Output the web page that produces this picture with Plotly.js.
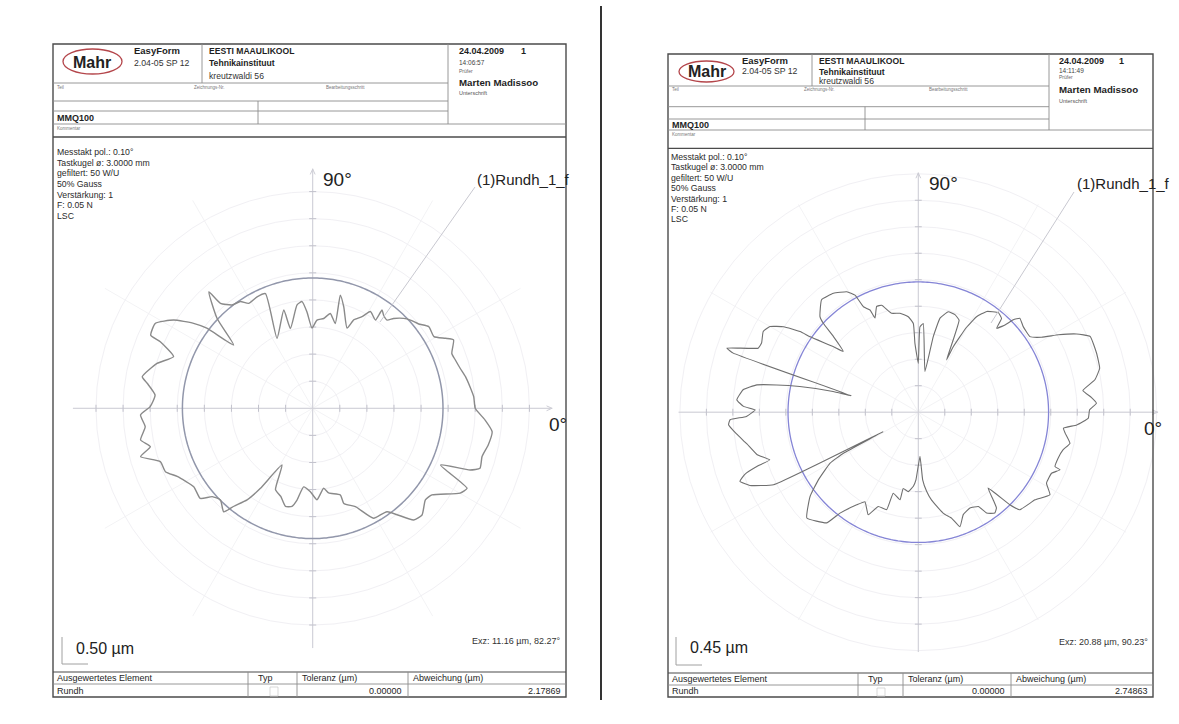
<!DOCTYPE html>
<html>
<head>
<meta charset="utf-8">
<script src="https://cdn.plot.ly/plotly-3.0.1.min.js"></script>
<style>
  html, body { margin: 0; padding: 0; background: #ffffff; }
  #chart { width: 1179px; height: 724px; }
</style>
</head>
<body>
<div id="chart"></div>
<script>
// ---------------------------------------------------------------
// Roundness profiles (polar, radius in µm on the plot scale)
// ---------------------------------------------------------------
const leftTheta = [0.0, 4.1, 7.8, 11.7, 15.2, 18.7, 21.5, 25.9, 27.8, 30.6, 35.1, 38.5, 42.1, 44.7, 48.0, 49.9,
  52.7, 54.8, 54.6, 59.2, 61.7, 65.1, 66.8, 73.0, 76.3, 75.1, 79.5, 83.0, 87.2, 90.5, 93.4, 95.7, 98.6,
  105.6, 106.4, 117.0, 112.4, 116.5, 121.4, 124.1, 128.0, 131.3, 131.7, 136.8, 141.3, 142.9, 144.5, 147.6,
  151.6, 155.7, 156.4, 159.6, 163.9, 169.5, 171.4, 175.2, 179.4, 182.2, 186.3, 190.4, 193.3, 195.7, 199.3,
  203.3, 206.7, 213.4, 218.7, 221.3, 224.8, 229.3, 231.2, 234.4, 236.8, 241.6, 245.4, 250.1, 254.5, 258.1,
  260.3, 263.4, 268.4, 272.7, 277.8, 280.7, 287.7, 288.1, 293.5, 299.0, 305.7, 312.1, 315.7, 320.9, 324.0,
  330.1, 332.6, 336.1, 338.6, 340.3, 344.1, 348.2, 352.6, 356.1, 360.0];
const leftR = [3.00, 2.98, 2.93, 2.88, 2.82, 2.78, 2.76, 2.89, 2.77, 2.60, 2.62, 2.50, 2.43, 2.36, 2.23, 2.13,
  2.16, 2.22, 2.00, 2.08, 1.92, 1.80, 1.61, 1.96, 2.15, 1.62, 1.78, 1.67, 1.63, 1.48, 1.78, 1.98, 1.93,
  1.53, 1.89, 1.45, 2.29, 2.30, 2.27, 2.38, 2.42, 2.58, 2.88, 2.42, 1.87, 2.45, 2.70, 3.04,
  3.30, 3.28, 3.07, 2.74, 2.99, 3.20, 3.09, 2.92, 3.00, 3.18, 3.11, 3.23, 3.08, 3.30, 2.98,
  2.96, 2.80, 2.63, 2.66, 2.47, 2.40, 2.52, 2.32, 2.08, 1.77, 1.19, 1.65, 1.73, 1.88, 1.85,
  1.72, 1.46, 1.54, 1.69, 1.49, 1.59, 1.68, 1.85, 1.98, 2.32, 2.35, 2.78, 2.82, 2.68, 2.72,
  3.14, 3.21, 2.58, 3.12, 3.28, 3.25, 3.31, 3.34, 3.19, 3.00];

const rightTheta = [0.8, 2.9, 4.9, 7.5, 10.4, 13.6, 18.3, 23.8, 26.3, 28.9, 31.3, 34.1, 39.2, 42.8, 44.2, 45.2,
  47.0, 48.4, 51.2, 55.8, 58.6, 60.4, 61.9, 61.6, 66.1, 69.4, 73.4, 77.0, 78.8, 80.7, 86.8, 88.9, 90.0,
  92.8, 93.2, 96.0, 100.5, 105.1, 108.9, 111.5, 114.7, 115.3, 117.5, 118.4, 120.7, 125.5, 130.7, 135.8,
  136.9, 138.3, 141.0, 142.3, 145.1, 145.7, 147.6, 150.0, 152.5, 156.2, 158.2, 161.5, 162.3, 166.2, 166.3,
  167.8, 169.1, 170.4, 172.7, 176.1, 178.1, 179.2, 181.4, 182.3, 183.8, 186.8, 190.5, 194.8, 197.8, 198.5,
  199.7, 201.2, 203.5, 206.6, 208.9, 208.7, 210.0, 214.1, 217.9, 223.5, 230.4, 232.2, 236.4, 239.2, 244.0,
  247.0, 252.0, 252.8, 258.2, 258.8, 262.8, 266.2, 268.0, 272.2, 273.7, 276.0, 278.6, 283.9, 287.5, 290.0,
  293.7, 298.3, 302.5, 304.1, 307.2, 309.2, 310.5, 312.6, 314.7, 316.1, 323.1, 327.9, 331.0, 335.4, 337.9,
  338.3, 341.8, 345.4, 348.4, 351.9, 353.7, 355.4, 358.0, 360.8];
const rightR = [2.91, 3.03, 2.95, 2.82, 3.05, 3.17, 3.19, 3.19, 3.00, 2.72, 2.45, 2.29, 2.30, 2.35, 2.25, 2.09,
  1.95, 2.13, 2.17, 2.07, 1.90, 1.66, 1.26, 1.01, 1.71, 1.77, 1.78, 1.64, 1.31, 0.70, 1.51, 1.45, 0.83,
  1.17, 1.51, 1.63, 1.71, 1.74, 1.92, 1.93, 1.76, 1.92, 2.02, 2.26, 2.38, 2.48, 2.52, 2.33,
  2.21, 1.93, 1.64, 1.82, 2.24, 2.43, 2.71, 2.91, 2.97, 2.91, 2.93, 3.43, 3.30, 1.17, 1.49,
  2.06, 2.45, 2.78, 3.00, 3.09, 2.97, 2.77, 2.92, 3.20, 3.23, 3.11, 2.96, 2.83, 2.65, 2.87,
  3.13, 3.25, 3.12, 2.75, 0.68, 1.45, 1.73, 2.05, 2.33, 2.61, 2.44, 2.17, 1.89, 1.77, 1.94,
  1.74, 1.74, 1.44, 1.52, 1.32, 1.36, 1.26, 1.15, 0.75, 1.15, 1.35, 1.51, 1.77, 1.89, 2.07,
  1.90, 1.85, 1.90, 2.07, 2.15, 2.10, 1.96, 1.75, 2.21, 2.39, 2.48, 2.64, 2.49, 2.49, 2.60,
  2.50, 2.50, 2.54, 2.63, 2.52, 2.48, 2.70, 2.89, 2.91];

// LSC reference circle radius and µm per grid ring
const leftRef = 2.405, rightRef = 2.213;
const leftStep = 0.50, rightStep = 0.45;

// Report texts
const infoLines = ["Messtakt pol.: 0.10°", "Tastkugel ø: 3.0000 mm", "gefiltert: 50 W/U", "50% Gauss",
  "Verstärkung: 1", "F: 0.05 N", "LSC"];
const reports = [
  { time: "14:06:57", scale: "0.50 µm", exz: "Exz: 11.16 µm, 82.27°", tol: "0.00000", dev: "2.17869" },
  { time: "14:11:49", scale: "0.45 µm", exz: "Exz: 20.88 µm, 90.23°", tol: "0.00000", dev: "2.74863" }
];

// ---------------------------------------------------------------
const W = 1179, H = 724;
const FONT = "Liberation Sans, Arial, Helvetica, sans-serif";
const X = px => px / W;
const Y = py => 1 - py / H;
const RAD = 240;

function dom(cx, cy) {
  return { x: [X(cx - RAD), X(cx + RAD)], y: [Y(cy + RAD), Y(cy - RAD)] };
}

function polarLayout(cx, cy, rmax, step) {
  return {
    domain: dom(cx, cy),
    bgcolor: "rgba(0,0,0,0)",
    radialaxis: { range: [0, rmax], tick0: 0, dtick: step, showticklabels: false, ticks: "",
      showline: false, gridcolor: "#f1f0f4", gridwidth: 1, angle: 0, layer: "below traces" },
    angularaxis: { dtick: 30, showticklabels: false, ticks: "", showline: false,
      gridcolor: "#f3f3f5", gridwidth: 1, rotation: 0, direction: "counterclockwise", layer: "below traces" }
  };
}

// Cross axes, ring tick marks and arrow heads
function axisTraces(sub, rmax, step) {
  const col = "#cdcdd5";
  const base = { type: "scatterpolar", subplot: sub, mode: "lines", hoverinfo: "skip", showlegend: false };
  const traces = [];
  traces.push(Object.assign({}, base, {
    r: [rmax, 0, rmax, null, rmax, 0, rmax],
    theta: [0, 0, 180, null, 90, 90, 270],
    line: { color: col, width: 1 }
  }));
  const h = step * 0.13;
  const tr = [], tt = [];
  for (let k = 1; k <= 8; k++) {
    const r0 = k * step;
    const rr = Math.hypot(r0, h);
    const d = Math.atan(h / r0) * 180 / Math.PI;
    [0, 90, 180, 270].forEach(a => { tr.push(rr, rr, null); tt.push(a - d, a + d, null); });
  }
  traces.push(Object.assign({}, base, { r: tr, theta: tt, line: { color: "#c2c2cc", width: 1 } }));
  const tip = rmax * 0.997, len = step * 0.2, hw = step * 0.09;
  const ar = [], at = [];
  [0, 90].forEach(a => {
    const rb = Math.hypot(tip - len, hw);
    const d = Math.atan(hw / (tip - len)) * 180 / Math.PI;
    ar.push(rb, tip, rb, null); at.push(a - d, a, a + d, null);
  });
  traces.push(Object.assign({}, base, { r: ar, theta: at, line: { color: col, width: 1 } }));
  return traces;
}

function circleTrace(sub, r, color, width) {
  const th = [], rr = [];
  for (let a = 0; a <= 360; a += 1) { th.push(a); rr.push(r); }
  return { type: "scatterpolar", subplot: sub, mode: "lines", r: rr, theta: th,
    line: { color: color, width: width }, hoverinfo: "skip", showlegend: false };
}

function profileTrace(sub, r, th, color, width, smooth) {
  return { type: "scatterpolar", subplot: sub, mode: "lines", r: r, theta: th,
    line: { color: color, width: width, shape: "spline", smoothing: smooth },
    hoverinfo: "skip", showlegend: false };
}

const cxL = 312.7, cyL = 408.3, cxR = 918.3, cyR = 412.2;
const rmaxL = 8.86 * leftStep, rmaxR = 9.06 * rightStep;

const data = []
  .concat(axisTraces("polar", rmaxL, leftStep))
  .concat([circleTrace("polar", leftRef, "#9297ab", 1.5),
           profileTrace("polar", leftR, leftTheta, "#8a8a8a", 1.4, 0.5)])
  .concat(axisTraces("polar2", rmaxR, rightStep))
  .concat([circleTrace("polar2", rightRef, "#8585d6", 1.3),
           profileTrace("polar2", rightR, rightTheta, "#6f6f6f", 1.1, 0.35)]);

// ---------------------------------------------------------------
// Page decoration: frames, header cells, tables
// ---------------------------------------------------------------
const shapes = [];
function line(x0, y0, x1, y1, color, width) {
  shapes.push({ type: "line", xref: "paper", yref: "paper", x0: X(x0), y0: Y(y0), x1: X(x1), y1: Y(y1),
    line: { color: color || "#8c8c8c", width: width || 0.9 } });
}
function rect(x0, y0, x1, y1, color, width) {
  shapes.push({ type: "rect", xref: "paper", yref: "paper", x0: X(x0), y0: Y(y1), x1: X(x1), y1: Y(y0),
    line: { color: color, width: width }, fillcolor: "rgba(0,0,0,0)" });
}
function oval(x0, y0, x1, y1) {
  shapes.push({ type: "circle", xref: "paper", yref: "paper", x0: X(x0), y0: Y(y1), x1: X(x1), y1: Y(y0),
    line: { color: "#b4464b", width: 1.3 } });
}

const annotations = [];
function T(text, x, y, size, opts) {
  opts = opts || {};
  annotations.push({ text: text, x: X(x), y: Y(y), xref: "paper", yref: "paper",
    xanchor: opts.anchor || "left", yanchor: "middle", showarrow: false, borderpad: 0,
    font: { family: FONT, size: size, color: opts.color || "#1e1e1e" } });
}

// page geometry
const pages = [
  { x0: 53, x1: 566, y0: 44, y1: 697, cx: cxL, cy: cyL,
    oval: [63, 49, 122, 74], col1: 133, div1: 202, col2: 208, divR: 448, col3: 458, one: 520,
    rows: [51, 63.3, 75.7], rRows: [51, 62.7, 71, 82.7, 93.3],
    lTop: 83, l1: 101, l2: 111, l3: 124, l4: 137, midDiv: 258,
    labY: 87, zeichX: 193, bearbX: 325, mmqY: 118, komY: 129,
    info0: 152.3, infoDy: 10.6, infoX: 56,
    bar: [62, 637, 664, 88], scaleX: 75, scaleY: 648, exzY: 641,
    t0: 672, t1: 684, cols: [248, 297, 408], box: 270,
    leader: [380, 322, 475, 187], labX: 476, zeroDx: 235.5 },
  { x0: 668, x1: 1153, y0: 54, y1: 697, cx: cxR, cy: cyR,
    oval: [679, 61, 734, 82], col1: 741, div1: 812, col2: 818, divR: 1049, col3: 1058, one: 1118,
    rows: [60.5, 71.5, 81.5], rRows: [60.5, 70, 77, 89.5, 100.5],
    lTop: 86, l1: 106.7, l2: 119, l3: 130, l4: 148.3, midDiv: 865,
    labY: 90, zeichX: 803, bearbX: 928, mmqY: 125, komY: 134.3,
    info0: 157, infoDy: 10.4, infoX: 670,
    bar: [676, 637, 665, 702], scaleX: 689, scaleY: 647, exzY: 642,
    t0: 673, t1: 685, cols: [858, 903, 1011], box: 877,
    leader: [991, 323, 1074, 192], labX: 1076, zeroDx: 225 }
];

pages.forEach((p, i) => {
  const rep = reports[i];
  const frame = "#4b4b4b";
  rect(p.x0, p.y0, p.x1, p.y1, frame, 1.4);
  // header grid
  line(p.div1, p.y0, p.div1, p.lTop);
  line(p.divR, p.y0, p.divR, p.l3);
  line(p.x0, p.lTop, p.divR, p.lTop);
  line(p.x0, p.l1, p.divR, p.l1);
  line(p.x0, p.l2, p.divR, p.l2);
  line(p.x0, p.l3, p.x1, p.l3);
  line(p.x0, p.l4, p.x1, p.l4, frame, 1.3);
  line(p.midDiv, p.l1, p.midDiv, p.l3);
  oval.apply(null, p.oval);

  T("<b>Mahr</b>", (p.oval[0] + p.oval[2]) / 2, (p.oval[1] + p.oval[3]) / 2 + 0.5, 16, { anchor: "center", color: "#222" });
  T("<b>EasyForm</b>", p.col1, p.rows[0], 9.5);
  T("2.04-05 SP 12", p.col1, p.rows[1] - 0.5, 8.7, { color: "#333" });
  T("<b>EESTI MAAULIKOOL</b>", p.col2, p.rows[0], 8.6);
  T("<b>Tehnikainstituut</b>", p.col2, p.rows[1], 8.6);
  T("kreutzwaldi 56", p.col2, p.rows[2], 8.6, { color: "#333" });
  T("<b>24.04.2009</b>", p.col3, p.rRows[0], 9);
  T("<b>1</b>", p.one, p.rRows[0], 9);
  T(rep.time, p.col3, p.rRows[1], 6.5, { color: "#444" });
  T("Prüfer", p.col3, p.rRows[2], 5, { color: "#666" });
  T("<b>Marten Madissoo</b>", p.col3, p.rRows[3], 9.7);
  T("Unterschrift", p.col3, p.rRows[4], 5.5, { color: "#555" });
  T("Teil", p.x0 + 3, p.labY, 4.5, { color: "#777" });
  T("Zeichnungs-Nr.", p.zeichX, p.labY, 4.5, { color: "#777" });
  T("Bearbeitungsschritt", p.bearbX, p.labY, 4.5, { color: "#777" });
  T("<b>MMQ100</b>", p.x0 + 3, p.mmqY, 9);
  T("Kommentar", p.x0 + 3, p.komY, 4.5, { color: "#777" });

  infoLines.forEach((s, k) => T(s, p.infoX, p.info0 + k * p.infoDy, 8.7, { color: "#2a2a2a" }));

  // polar labels
  T("90°", p.cx + 9.5, p.cy - 228.5, 19, { color: "#222" });
  T("0°", p.cx + p.zeroDx, p.cy + 16.5, 19, { color: "#222" });
  T("(1)Rundh_1_f", p.labX, p.cy - 229, 15, { color: "#222" });
  line(p.leader[0], p.leader[1], p.leader[2], p.leader[3], "#c8c8d0", 1);

  // scale bar
  line(p.bar[0], p.bar[1], p.bar[0], p.bar[2], "#a0a0a0", 1);
  line(p.bar[0], p.bar[2], p.bar[3], p.bar[2], "#a0a0a0", 1);
  T(rep.scale, p.scaleX, p.scaleY, 16, { color: "#222" });
  T(rep.exz, p.x1 - 4, p.exzY, 9, { anchor: "right", color: "#333" });

  // result table
  line(p.x0, p.t0, p.x1, p.t0, frame, 1.1);
  line(p.x0, p.t1, p.x1, p.t1);
  p.cols.forEach(c => line(c, p.t0, c, p.y1));
  rect(p.box, p.t1 + 3, p.box + 8, p.y1 - 1, "#cfcfcf", 0.8);
  const hy = (p.t0 + p.t1) / 2, ry = (p.t1 + p.y1) / 2;
  T("Ausgewertetes Element", p.x0 + 3, hy, 9);
  T("Typ", p.cols[0] + 9, hy, 9);
  T("Toleranz (µm)", p.cols[1] + 4, hy, 9);
  T("Abweichung (µm)", p.cols[2] + 4, hy, 9);
  T("Rundh", p.x0 + 3, ry, 9);
  T(rep.tol, p.cols[2] - 5, ry, 9, { anchor: "right" });
  T(rep.dev, p.x1 - 4, ry, 9, { anchor: "right" });
});

// separator between the two sheets
line(601, 6, 601, 700, "#000000", 1.6);

const layout = {
  width: W, height: H,
  margin: { l: 0, r: 0, t: 0, b: 0 },
  paper_bgcolor: "#ffffff",
  showlegend: false,
  polar: polarLayout(cxL, cyL, rmaxL, leftStep),
  polar2: polarLayout(cxR, cyR, rmaxR, rightStep),
  shapes: shapes,
  annotations: annotations
};

Plotly.newPlot("chart", data, layout, { displayModeBar: false, staticPlot: true });
</script>
</body>
</html>
